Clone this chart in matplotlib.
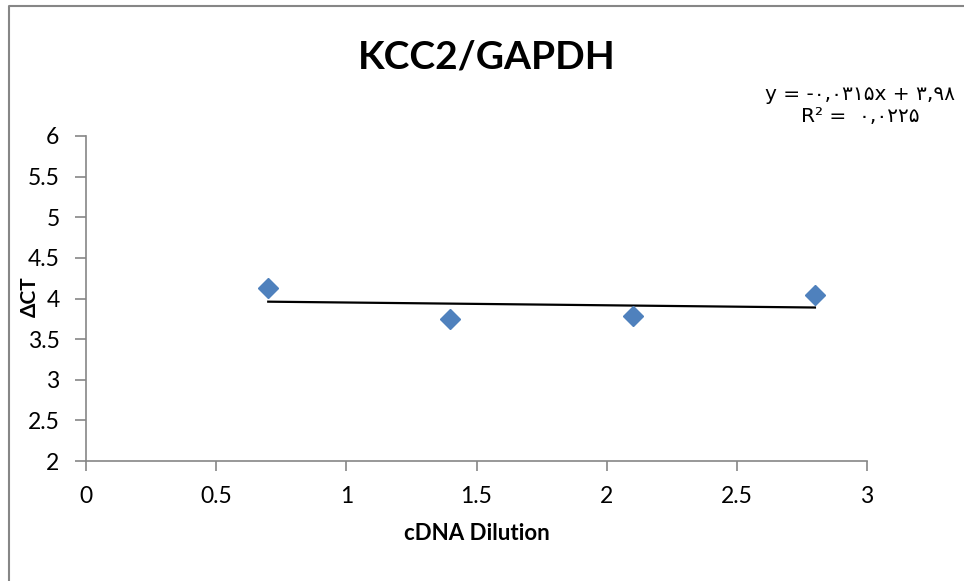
import numpy as np
import matplotlib
matplotlib.use("Agg")
import matplotlib.pyplot as plt
from matplotlib.lines import Line2D

# data
dilution = [0.7, 1.4, 2.1, 2.8]
delta_ct = [4.13, 3.75, 3.78, 4.04]
x_ticks = [0, 0.5, 1, 1.5, 2, 2.5, 3]
y_ticks = [2, 2.5, 3, 3.5, 4, 4.5, 5, 5.5, 6]
eq_text = "y = -۰,۰۳۱۵x + ۳,۹۸\nR² =  ۰,۰۲۲۵"

plt.rcParams['font.family'] = ['Lato', 'DejaVu Sans']

fig = plt.figure(figsize=(9.64, 5.81), dpi=100)
W, H = 964, 581
ax = fig.add_axes([86 / W, 1 - 461 / H, (867 - 86) / W, (461 - 136) / H])

# chart border (only left and top edges are inside the crop)
fig.lines.append(Line2D([9 / W, 9 / W, 1], [0, 1 - 6 / H, 1 - 6 / H],
                        transform=fig.transFigure, color='#868686', linewidth=1.5))

ax.plot(dilution, delta_ct, linestyle='none', marker='D', markersize=10.5,
        color='#4F81BD', zorder=3, clip_on=False)

# linear trendline
k, b = np.polyfit(dilution, delta_ct, 1)
xs = np.array([dilution[0], dilution[-1]])
ax.plot(xs, k * xs + b, color='black', linewidth=1.6, zorder=2)

ax.set_xlim(0, 3)
ax.set_ylim(2, 6)
ax.set_xticks(x_ticks)
ax.set_yticks(y_ticks)
ax.set_xticklabels([f"{t:g}" for t in x_ticks])
ax.set_yticklabels([f"{t:g}" for t in y_ticks])
ax.tick_params(axis='both', labelsize=16.5, colors='#868686', labelcolor='black',
               direction='out', width=1.2)
ax.tick_params(axis='x', length=7, pad=11)
ax.tick_params(axis='y', length=8, pad=11)
for s in ['top', 'right']:
    ax.spines[s].set_visible(False)
for s in ['left', 'bottom']:
    ax.spines[s].set_color('#868686')
    ax.spines[s].set_linewidth(1.2)

fig.text(487 / W, 1 - 57 / H, "KCC2/GAPDH", ha='center', va='center',
         fontsize=28, fontweight='bold')
fig.text(477 / W, 1 - 534 / H, "cDNA Dilution", ha='center', va='center',
         fontsize=16, fontweight='bold')
fig.text(30 / W, 1 - 297 / H, "ΔCT", ha='center', va='center', rotation=90,
         fontsize=15, fontweight='bold')
fig.text(860 / W, 1 - 106 / H, eq_text, ha='center', va='center',
         fontsize=14.5, linespacing=1.2, family=['DejaVu Sans'])

fig.savefig("out.png", dpi=100)
